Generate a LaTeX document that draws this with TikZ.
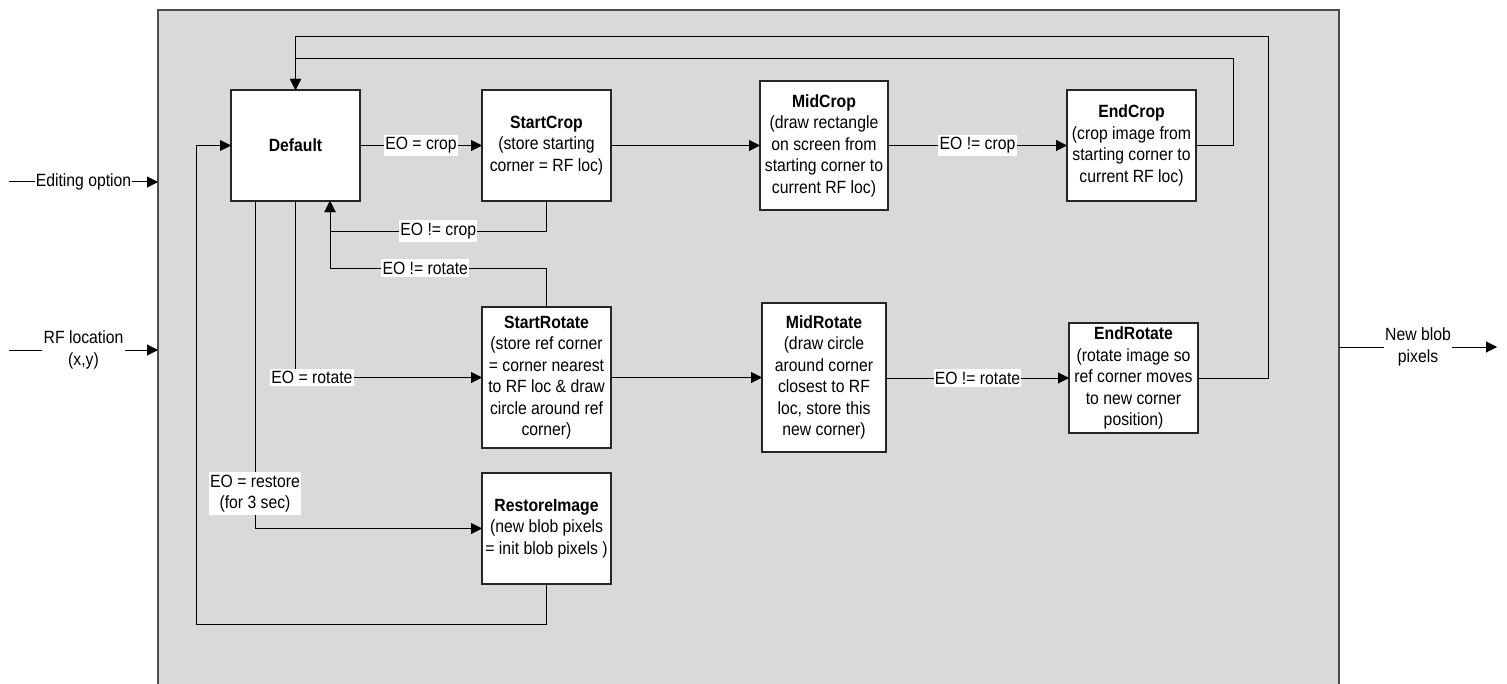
\documentclass[tikz,border=0pt]{standalone}
\usepackage{fontspec}
\setmainfont{Liberation Sans}[FakeStretch=0.89]
\usetikzlibrary{arrows.meta}
\definecolor{panel}{RGB}{217,217,217}
\begin{document}
\begin{tikzpicture}[x=0.5pt,y=-0.5pt,
  font=\fontsize{8.85pt}{10.75pt}\selectfont,
  box/.style={draw=black!85, fill=white, line width=0.55pt, align=center, inner sep=0pt, outer sep=0pt},
  conn/.style={draw=black, line width=0.5pt},
  arr/.style={conn, -{Triangle[length=5.5pt,width=5.5pt]}},
  lbl/.style={fill=white, inner xsep=0.6pt, inner ysep=1.3pt, align=center},
  panelbox/.style={draw=black!70, fill=panel, line width=1pt, inner sep=0pt, outer sep=0pt}]
\useasboundingbox (0,0) rectangle (1507,684);
\clip (0,0) rectangle (1507,684);
% frame
\node[panelbox, minimum width=590.5pt, minimum height=350pt] (frame) at (748.5,360) {};
% states
\node[box, minimum width=64.5pt, minimum height=55.5pt] (def) at (295.5,145.5) {\textbf{Default}};
\node[box, minimum width=64.5pt, minimum height=55.5pt] (sc) at (546.5,145.5) {\textbf{StartCrop}\\(store starting\\corner = RF loc)};
\node[box, minimum width=64pt, minimum height=64.5pt] (mc) at (824,145.5) {\textbf{MidCrop}\\(draw rectangle\\on screen from\\starting corner to\\current RF loc)};
\node[box, minimum width=64.5pt, minimum height=55.5pt] (ec) at (1131.5,145.5) {\textbf{EndCrop}\\(crop image from\\starting corner to\\current RF loc)};
\node[box, minimum width=64.5pt, minimum height=70.5pt] (sr) at (546.5,377.5) {\textbf{StartRotate}\\(store ref corner\\= corner nearest\\to RF loc \& draw\\circle around ref\\corner)};
\node[box, minimum width=62pt, minimum height=74.5pt] (mr) at (824,377.5) {\textbf{MidRotate}\\(draw circle\\around corner\\closest to RF\\loc, store this\\new corner)};
\node[box, minimum width=64.5pt, minimum height=55pt] (er) at (1133.5,378) {\textbf{EndRotate}\\(rotate image so\\ref corner moves\\to new corner\\position)};
\node[box, minimum width=64.5pt, minimum height=55.5pt] (ri) at (546.5,528.5) {\textbf{RestoreImage}\\(new blob pixels\\= init blob pixels )};
% forward transitions
\draw[arr] (def.east) -- node[lbl] {EO = crop} (sc.west);
\draw[arr] (sc.east) -- (mc.west);
\draw[arr] (mc.east) -- node[lbl] {EO != crop} (ec.west);
\draw[arr] (sr.east) -- (sr.east -| mr.west);
\draw[arr] (mr.east |- er.west) -- node[lbl] {EO != rotate} (er.west);
% from Default downward
\draw[arr] (def.south) |- node[lbl, pos=0.544] {EO = rotate} (sr.west);
\draw[arr] ([xshift=-20.25pt]def.south) |- node[lbl, pos=0.447] {EO = restore\\(for 3 sec)} (ri.west);
% returns to Default
\draw[arr] (sc.south) |- node[lbl, pos=0.75] {EO != crop} ([xshift=17.25pt]def.south |- 0,231) -- ([xshift=17.25pt]def.south);
\draw[arr] (sr.north) |- node[lbl, pos=0.78] {EO != rotate} ([xshift=17.25pt]def.south |- 0,268) -- ([xshift=17.25pt]def.south);
\draw[arr] (ri.south) |- (196,624) |- (def.west);
\draw[arr] (ec.east) -| (1233,59) -| (def.north);
\draw[arr] (er.east) -| (1268,37) -| (def.north);
% inputs and output
\coordinate (eoin) at (9,182);
\coordinate (rfin) at (9,350);
\coordinate (outend) at (1497,347);
\draw[arr] (eoin) -- node[lbl] {Editing option} (eoin -| frame.west);
\draw[arr] (rfin) -- node[lbl] {RF location\\(x,y)} (rfin -| frame.west);
\draw[arr] (outend -| frame.east) -- node[lbl] {New blob\\pixels} (outend);
\end{tikzpicture}
\end{document}
